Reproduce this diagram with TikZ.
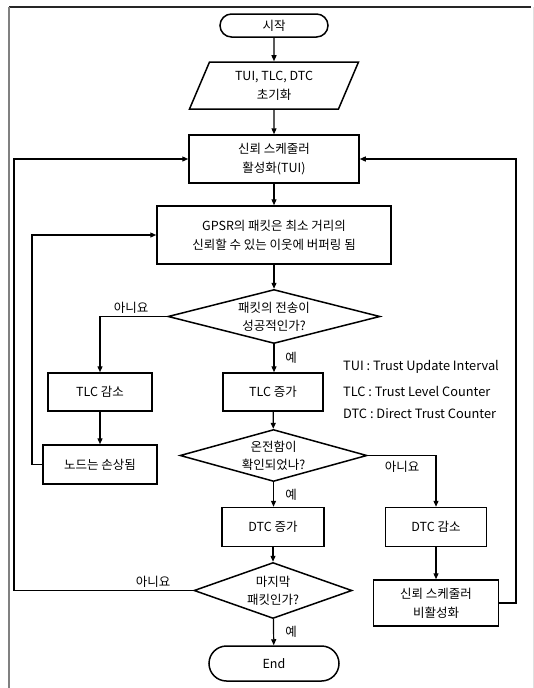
\documentclass[tikz,border=0pt]{standalone}
\usepackage{fontspec}
\setmainfont{Noto Sans CJK KR}
\usetikzlibrary{arrows.meta, shapes.geometric, shapes.misc}

\begin{document}
\begin{tikzpicture}[
  x=1pt, y=-1pt,
  base/.style={draw, line width=1.5pt, align=center, font=\fontsize{12.5}{19}\selectfont, inner sep=2pt},
  terminal/.style={base, rounded rectangle},
  inout/.style={base, trapezium, trapezium left angle=59, trapezium right angle=121, trapezium stretches body},
  process/.style={base, rectangle},
  decision/.style={base, diamond, inner sep=0pt, font=\fontsize{12.5}{18}\selectfont},
  flow/.style={-{Triangle[length=6pt,width=5pt]}, line width=1.2pt},
  answer/.style={font=\fontsize{12.5}{14}\selectfont, inner sep=1pt},
  legend/.style={anchor=west, font=\fontsize{12.8}{14}\selectfont, inner sep=0pt}
]
\useasboundingbox (0,0) rectangle (534,688);
% frame of the figure
\draw[line width=1.5pt, black!85] (9,7) -- (531,7);
\draw[line width=1.5pt, black!50] (9,7) -- (9,688);
\draw[line width=1pt, black!12] (533,7) -- (533,688);

% Nodes (main column at x=273)
\node[terminal, minimum width=112pt, minimum height=23pt] (start) at (274,25.5) {시작};
\node[inout, minimum width=169pt, minimum height=47pt] (init) at (274,85.5) {TUI, TLC, DTC\\초기화};
\node[process, minimum width=170pt, minimum height=48pt] (tui) at (274,159) {신뢰 스케줄러\\활성화(TUI)};
\node[process, minimum width=234pt, minimum height=58pt] (gpsr) at (274,235) {GPSR의 패킷은 최소 거리의\\신뢰할 수 있는 이웃에 버퍼링 됨};
\node[decision, aspect=4, minimum width=212pt, minimum height=54pt] (sent) at (274,316.5) {패킷의 전송이\\성공적인가?};
\node[process, minimum width=104pt, minimum height=38pt] (tlcdec) at (100,392) {TLC 감소};
\node[process, minimum width=100pt, minimum height=38pt] (tlcinc) at (273,392) {TLC 증가};
\node[process, minimum width=114pt, minimum height=39pt] (damage) at (100,464.5) {노드는 손상됨};
\node[decision, aspect=3.4, minimum width=187pt, minimum height=52pt] (intact) at (273.5,455.5) {온전함이\\확인되었나?};
\node[process, minimum width=102pt, minimum height=39pt] (dtcinc) at (273,527) {DTC 증가};
\node[process, minimum width=101pt, minimum height=39pt] (dtcdec) at (436,527) {DTC 감소};
\node[decision, aspect=2.6, minimum width=158pt, minimum height=56pt] (last) at (273,590.5) {마지막\\패킷인가?};
\node[process, minimum width=125pt, minimum height=46pt] (deact) at (436,603) {신뢰 스케줄러\\비활성화};
\node[terminal, minimum width=134pt, minimum height=35pt] (end) at (274,663.5) {End};

% Legend
\node[legend] (lgtui) at (343,367) {TUI : Trust Update Interval};
\node[legend] (lgtlc) at (343,391) {TLC : Trust Level Counter};
\node[legend] (lgdtc) at (343,414) {DTC : Direct Trust Counter};

% Yes / no labels
\node[answer] (no1) at (131,308) {아니요};
\node[answer] (yes1) at (291,358) {예};
\node[answer] (no2) at (402,467) {아니요};
\node[answer] (yes2) at (291,495) {예};
\node[answer] (no3) at (153,582) {아니요};
\node[answer] (yes3) at (291,632) {예};

% Loop-back rails
\coordinate (lrail) at (14,0);
\coordinate (mrail) at (32,0);
\coordinate (rrail) at (516,0);

% Connectors
\draw[flow] (start) -- (init);
\draw[flow] (init) -- (tui);
\draw[flow] (tui) -- (gpsr);
\draw[flow] (gpsr) -- (sent);
\draw[flow] (sent.west) -| (tlcdec.north);
\draw[flow] (sent.south) -- (tlcinc.north -| sent.south);
\draw[flow] (tlcdec) -- (damage);
\draw[flow] (damage.west) -- (damage.west -| mrail) |- (gpsr.west);
\draw[flow] (tlcinc) -- (intact);
\draw[flow] (intact.east) -| (dtcdec.north);
\draw[flow] (intact.south) -- (dtcinc.north -| intact.south);
\draw[flow] (dtcinc) -- (last);
\draw[flow] (dtcdec) -- (deact);
\draw[flow] (last) -- (end);
\draw[flow] (last.west) -- (last.west -| lrail) |- (tui.west);
\draw[flow] (deact.east) -- (deact.east -| rrail) |- (tui.east);
\end{tikzpicture}
\end{document}
